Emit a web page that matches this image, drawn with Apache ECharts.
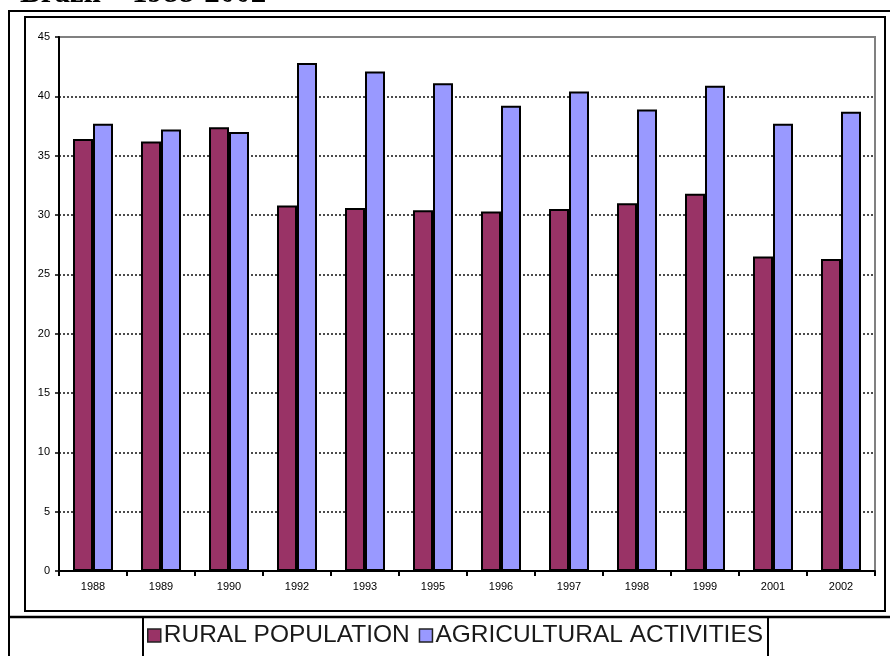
<!DOCTYPE html>
<html>
<head>
<meta charset="utf-8">
<script src="https://cdn.jsdelivr.net/npm/echarts@6/dist/echarts.min.js"></script>
<style>
  html, body { margin: 0; padding: 0; background: #fff; }
  #chart { width: 890px; height: 656px; }
</style>
</head>
<body>
<div id="chart"></div>
<script>
// Survey years shown on the category axis
const years = ['1988', '1989', '1990', '1992', '1993', '1995', '1996', '1997', '1998', '1999', '2001', '2002'];

// Series values (%)
const ruralPopulation        = [36.4, 36.2, 37.4, 30.8, 30.6, 30.4, 30.3, 30.5, 31.0, 31.8, 26.5, 26.3];
const agriculturalActivities = [37.7, 37.2, 37.0, 42.8, 42.1, 41.1, 39.2, 40.4, 38.9, 40.9, 37.7, 38.7];

// Value axis range and step
const yMin = 0;
const yMax = 45;
const yStep = 5;

const seriesNames = ['RURAL POPULATION', 'AGRICULTURAL ACTIVITIES'];
const seriesColors = ['#993366', '#9999FF'];

const chart = echarts.init(document.getElementById('chart'), null, { renderer: 'canvas' });

const sans = '"Liberation Sans", Arial, sans-serif';

chart.setOption({
  animation: false,
  backgroundColor: '#ffffff',
  grid: {
    left: 59, right: 15, top: 37, bottom: 85,
    show: true,
    backgroundColor: '#ffffff',
    borderColor: '#808080',
    borderWidth: 2
  },
  legend: {
    data: seriesNames,
    left: 147,
    top: 623,
    icon: 'rect',
    itemWidth: 13,
    itemHeight: 13,
    itemGap: 9,
    padding: 0,
    itemStyle: { borderColor: '#222', borderWidth: 1.5 },
    textStyle: { fontFamily: sans, fontSize: 24.5, color: '#1a1a1a', padding: [0, 0, 0, -2] }
  },
  xAxis: {
    type: 'category',
    data: years,
    boundaryGap: true,
    axisLine: { show: true, lineStyle: { color: '#000', width: 2 } },
    axisTick: { show: true, alignWithLabel: false, length: 5, lineStyle: { color: '#000', width: 2 } },
    axisLabel: { color: '#000', fontFamily: sans, fontSize: 11, margin: 10 },
    splitLine: { show: false }
  },
  yAxis: {
    type: 'value',
    min: yMin,
    max: yMax,
    interval: yStep,
    axisLine: { show: true, lineStyle: { color: '#000', width: 2 } },
    axisTick: { show: true, length: 4, lineStyle: { color: '#000', width: 1.5 } },
    axisLabel: { color: '#000', fontFamily: sans, fontSize: 11, margin: 9 },
    splitLine: {
      show: true,
      showMinLine: false,
      showMaxLine: false,
      lineStyle: { color: '#111', width: 1.5, type: [2, 2] }
    }
  },
  series: [
    {
      name: seriesNames[0],
      type: 'bar',
      data: ruralPopulation,
      barWidth: 20,
      barGap: '0%',
      itemStyle: { color: seriesColors[0], borderColor: '#000', borderWidth: 2 }
    },
    {
      name: seriesNames[1],
      type: 'bar',
      data: agriculturalActivities,
      barWidth: 20,
      barGap: '0%',
      itemStyle: { color: seriesColors[1], borderColor: '#000', borderWidth: 2 }
    }
  ],
  graphic: [
    // heading, mostly above the top edge of the page
    {
      type: 'text', left: 20, top: -22, silent: true,
      style: { text: 'Brazil – 1988-2002', font: 'bold 31px "Liberation Serif", "Times New Roman", serif', fill: '#000' }
    },
    // outer table frame
    { type: 'line', silent: true, shape: { x1: 8, y1: 11, x2: 890, y2: 11 }, style: { stroke: '#000', lineWidth: 2 } },
    { type: 'line', silent: true, shape: { x1: 9, y1: 10, x2: 9, y2: 656 }, style: { stroke: '#000', lineWidth: 2 } },
    { type: 'line', silent: true, shape: { x1: 8, y1: 617, x2: 890, y2: 617 }, style: { stroke: '#000', lineWidth: 2.5 } },
    // chart box
    { type: 'rect', silent: true, shape: { x: 25, y: 17, width: 860, height: 594 }, style: { fill: 'none', stroke: '#000', lineWidth: 2 } },
    // legend box sides
    { type: 'line', silent: true, shape: { x1: 143, y1: 617, x2: 143, y2: 656 }, style: { stroke: '#000', lineWidth: 2 } },
    { type: 'line', silent: true, shape: { x1: 768, y1: 617, x2: 768, y2: 656 }, style: { stroke: '#000', lineWidth: 2 } }
  ]
});
</script>
</body>
</html>
